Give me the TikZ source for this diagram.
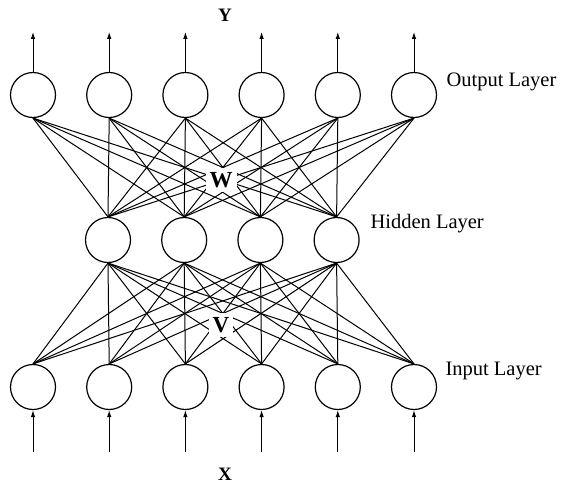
\documentclass[tikz,border=0pt]{standalone}
\usepackage{fontspec}
\setmainfont{Liberation Serif}
\usepackage{tikz}
\usetikzlibrary{arrows.meta,positioning,calc}
\tikzset{
  neuron/.style={circle,draw=black,line width=1.2pt,fill=white,
    minimum size=45pt,inner sep=0pt},
  wire/.style={line width=1pt,color=black},
  ioarr/.style={-{Latex[length=7pt,width=4.5pt]},line width=1pt,color=black},
  layerlabel/.style={anchor=west,font=\fontsize{20.5}{23}\selectfont},
  weightlabel/.style={fill=white,inner sep=4pt,font=\fontsize{23}{25}\selectfont\bfseries},
  varlabel/.style={font=\fontsize{19}{21}\selectfont\bfseries},
}
\begin{document}
\begin{tikzpicture}[x=1pt,y=-1pt,node distance=30pt]
  \useasboundingbox (0,0) rectangle (568,488);
  % output layer
  \node[neuron] (o1) at (33,95) {};
  \node[neuron,right=of o1] (o2) {};
  \node[neuron,right=of o2] (o3) {};
  \node[neuron,right=of o3] (o4) {};
  \node[neuron,right=of o4] (o5) {};
  \node[neuron,right=of o5] (o6) {};
  % hidden layer
  \node[neuron] (h1) at (108,240) {};
  \node[neuron,right=of h1] (h2) {};
  \node[neuron,right=of h2] (h3) {};
  \node[neuron,right=of h3] (h4) {};
  % input layer
  \node[neuron] (i1) at (33,387) {};
  \node[neuron,right=of i1] (i2) {};
  \node[neuron,right=of i2] (i3) {};
  \node[neuron,right=of i3] (i4) {};
  \node[neuron,right=of i4] (i5) {};
  \node[neuron,right=of i5] (i6) {};

  % full connections
  \foreach \o in {1,...,6}
    \foreach \h in {1,...,4}
      \draw[wire] (o\o.south) -- (h\h.north);
  \foreach \h in {1,...,4}
    \foreach \i in {1,...,6}
      \draw[wire] (h\h.south) -- (i\i.north);

  \node[weightlabel] (w) at (221,180) {W};
  \node[weightlabel] (v) at (221,325) {V};

  % outputs and inputs
  \foreach \n in {1,...,6} {
    \coordinate (y\n) at ($(o\n.north)+(0,-40)$);
    \coordinate (x\n) at ($(i\n.south)+(0,42)$);
    \draw[ioarr] (o\n.north) -- (y\n);
    \draw[ioarr] (x\n) -- (i\n.south);
  }

  \node[varlabel] (ylab) at (225,15) {Y};
  \node[varlabel] (xlab) at (225,474) {X};
  \node[layerlabel] (outlab) at (443,82) {Output Layer};
  \node[layerlabel] (hidlab) at (367,224) {Hidden Layer};
  \node[layerlabel] (inlab) at (442,371) {Input Layer};
\end{tikzpicture}
\end{document}
